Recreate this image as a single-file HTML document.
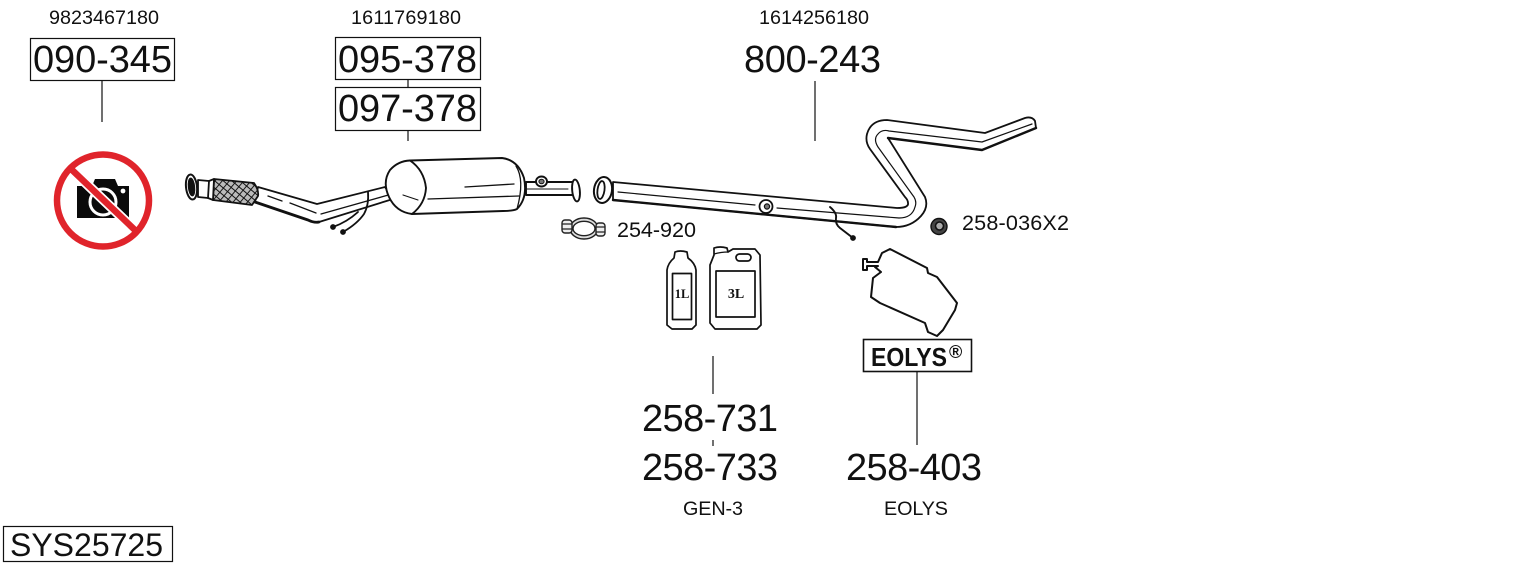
<!DOCTYPE html>
<html>
<head>
<meta charset="utf-8">
<style>
html,body{margin:0;padding:0;background:#fff;width:1530px;height:566px;overflow:hidden}
svg{display:block}
text{font-family:"Liberation Sans",sans-serif;fill:#111}
.b{font-size:38px}
.s{font-size:19.8px}
.m{font-size:21.6px}
</style>
</head>
<body>
<svg width="1530" height="566" viewBox="0 0 1530 566" xmlns="http://www.w3.org/2000/svg">
<defs>
<pattern id="mesh" width="5.5" height="5.5" patternUnits="userSpaceOnUse" patternTransform="rotate(40)">
<rect width="5.5" height="5.5" fill="#bbb"/>
<path d="M0 0H5.5M0 0V5.5" stroke="#111" stroke-width="1.9"/>
</pattern>
</defs>

<!-- Boxes and leader lines -->
<g fill="none" stroke="#111" stroke-width="1.2">
<rect x="30.5" y="38.5" width="144" height="42"/>
<rect x="335.5" y="37.5" width="145" height="42"/>
<rect x="335.5" y="87.5" width="145" height="43"/>
<rect x="3.5" y="526.5" width="169" height="35"/>
<rect x="863.5" y="339.5" width="108" height="32" stroke-width="1.6"/>
<path d="M102 81V122M408 80V87M408 130V141M815 81V141M713 356V394M713 440V446M917 371V445"/>
</g>

<!-- Labels -->
<text class="s" x="49" y="24" textLength="110">9823467180</text>
<text class="s" x="351" y="24" textLength="110">1611769180</text>
<text class="s" x="759" y="24" textLength="110">1614256180</text>
<text class="b" x="33" y="72" textLength="139">090-345</text>
<text class="b" x="338" y="72" textLength="139">095-378</text>
<text class="b" x="338" y="121" textLength="139">097-378</text>
<text class="b" x="744" y="72" textLength="137">800-243</text>
<text class="b" x="642" y="431" textLength="136">258-731</text>
<text class="b" x="642" y="480" textLength="136">258-733</text>
<text class="b" x="846" y="480" textLength="136">258-403</text>
<text class="m" x="617" y="237" textLength="79">254-920</text>
<text class="m" x="962" y="230" textLength="107">258-036X2</text>
<text class="s" x="683" y="515" textLength="60">GEN-3</text>
<text class="s" x="884" y="515" textLength="64">EOLYS</text>
<text x="10" y="556" font-size="32" textLength="153">SYS25725</text>
<text x="871" y="366" font-size="26" font-weight="bold" textLength="76" lengthAdjust="spacingAndGlyphs">EOLYS</text>
<text x="949" y="358" font-size="18" font-weight="bold">®</text>

<!-- No photo icon -->
<g>
<path d="M77 186H92L95 179H115L118 186H129V218H77Z" fill="#0a0a0a"/>
<circle cx="103" cy="202" r="13" fill="none" stroke="#fff" stroke-width="3"/>
<circle cx="123" cy="191" r="2.4" fill="#fff"/>
<path d="M70 168L137 232" stroke="#fff" stroke-width="10"/>
<path d="M70 168L137 232" stroke="#e0242b" stroke-width="6.5"/>
<circle cx="103" cy="200.5" r="46" fill="none" stroke="#e0242b" stroke-width="6.5"/>
</g>

<!-- Front pipe with flex -->
<g stroke="#111" stroke-width="1.8" fill="#fff" stroke-linejoin="round" stroke-linecap="round">
<path d="M258 187L317 204L385 187L393 199L319 222Q314 223 308 220L255 202Z"/>
<path d="M268 196L282 201M290 203L316 213M321 214L392 194" fill="none" stroke-width="1.3"/>
<path d="M319 222Q314 223 308 220L255 202" fill="none" stroke-width="2.8"/>
<path d="M214 179L254 183Q259 190 258 196L252 205L213 200Z" fill="url(#mesh)" stroke-width="1.8"/>
<path d="M198 180L209 181L214 179L213 200L208 198L198 197Z"/>
<path d="M209 181L208 198" fill="none"/>
<ellipse cx="191.5" cy="187" rx="5.5" ry="12.5" transform="rotate(-6 191.5 187)" stroke-width="2"/>
<ellipse cx="191.5" cy="187" rx="2.8" ry="8.5" fill="#111" transform="rotate(-6 191.5 187)"/>
<!-- wires -->
<path d="M368 192Q369 205 364 214Q357 224 343 232" fill="none" stroke-width="1.8"/>
<path d="M358 212Q347 222 333 227" fill="none" stroke-width="1.8"/>
<circle cx="343" cy="232" r="2" fill="#111"/>
<circle cx="333" cy="227" r="2" fill="#111"/>
</g>

<!-- Muffler -->
<g stroke="#111" stroke-width="1.9" fill="#fff" stroke-linecap="round" stroke-linejoin="round">
<path d="M526 182L573 182L575 195L526 195Z"/>
<path d="M527 189H568" fill="none" stroke-width="1"/>
<ellipse cx="576" cy="190.5" rx="3.8" ry="11" transform="rotate(-6 576 190.5)"/>
<ellipse cx="541.5" cy="181.5" rx="5.5" ry="5" />
<ellipse cx="541.5" cy="181.5" rx="2.6" ry="2.3" fill="#777" stroke-width="1"/>
<path d="M410 160.5L502 158Q518 160 524 178Q528 198 517 209Q513 211 503 211L412 214Q396 212 389 197Q382 182 390 170Q398 161 410 160.5Z"/>
<path d="M410 160.5Q424 170 426 188Q425 204 412 214" fill="none"/>
<path d="M516 166Q525 180 517 209" fill="none" stroke-width="1.3"/>
<path d="M465 187L514 184" fill="none" stroke-width="1.3"/>
<path d="M428 199L519 196" fill="none" stroke-width="1.3"/>
<path d="M403 195L418 200" fill="none" stroke-width="1.1"/>
</g>

<!-- Clamp -->
<g stroke="#222" stroke-width="1.4" fill="#fff" stroke-linejoin="round">
<ellipse cx="584" cy="228.5" rx="14" ry="10.5" fill="#ddd" stroke-width="1.5"/>
<ellipse cx="584" cy="228.5" rx="11" ry="7.2"/>
<rect x="562" y="220" width="10" height="13" rx="3" fill="#eee"/>
<rect x="596" y="223" width="9" height="13" rx="3" fill="#eee"/>
<path d="M562 224H572M562 229H572M596 227H605M596 232H605" fill="none" stroke-width="1.2"/>
</g>

<!-- Rear pipe -->
<g stroke="#111" stroke-width="1.8" fill="#fff" stroke-linejoin="round" stroke-linecap="round">
<path d="M613 182L897 208Q909 208 908 203Q908 200 905 197L870 149Q865 142 867 134Q871 120 887 120L985 133L1025 118Q1032 116 1035 121L1036 128L982 150L888 138L925 197Q929 207 921 216Q911 227 896 227L613 200Z"/>
<path d="M618 192L755 205M777 208L899 218Q912 218 915 207Q917 202 914 197L878 147Q873 139 878 134Q882 129 889 131L982 142L1032 124" fill="none" stroke-width="1.2"/>
<path d="M896 227L613 200" fill="none" stroke-width="2.4"/>
<path d="M888 138L982 150L1036 128" fill="none" stroke-width="2.4"/>
<ellipse cx="603" cy="190" rx="9" ry="13" transform="rotate(8 603 190)" stroke-width="2"/>
<ellipse cx="601" cy="190" rx="3.5" ry="9" transform="rotate(8 601 190)" stroke-width="1.8"/>
<ellipse cx="766" cy="206.5" rx="6.5" ry="6.5"/>
<circle cx="767" cy="206.5" r="2.6" fill="#777" stroke-width="1.2"/>
<path d="M830 207Q837 213 836 218Q835 224 840 228L853 238" fill="none" stroke-width="1.9"/>
<circle cx="853" cy="238" r="2" fill="#111"/>
</g>

<!-- Nut -->
<g stroke="#111">
<circle cx="939" cy="226.5" r="8" fill="#444" stroke-width="1.4"/>
<circle cx="939.5" cy="226" r="4" fill="#aaa" stroke-width="1.6"/>
</g>

<!-- Bottles -->
<g stroke="#111" stroke-width="1.7" fill="#fff" stroke-linejoin="round">
<path d="M675 252Q680 250 687 252L688 258Q695 263 696 270V325L692 329H672L667 325V270Q668 263 674 258Z"/>
<rect x="672.5" y="273.5" width="19" height="46"/>
<path d="M714 248Q720 246 727 248L728 252L733 249H755L760 255L761 325L757 329H715L710 323V265L714 255Z"/>
<rect x="736" y="254" width="15" height="7" rx="3.5"/>
<rect x="716" y="271" width="39" height="46"/>
<path d="M714 254Q721 252 728 252" fill="none" stroke-width="1.2"/>
</g>
<text x="682" y="298" text-anchor="middle" font-size="12.5" font-weight="bold" style="font-family:'Liberation Serif',serif">1L</text>
<text x="736" y="298" text-anchor="middle" font-size="14" font-weight="bold" style="font-family:'Liberation Serif',serif">3L</text>

<!-- Tank -->
<path d="M863 259V270H867V266H873L878 266L875 267L881 272L873 278L871 297L880 303L925 323L928 332L937 336L943 330L955 310L957 303L937 277L928 273L927 268L890 249L882 253L878 262H867V259Z" fill="#fff" stroke="#111" stroke-width="2" stroke-linejoin="round"/>
</svg>
</body>
</html>
